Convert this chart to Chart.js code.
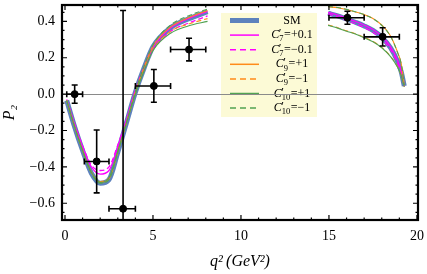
<!DOCTYPE html>
<html>
<head>
<meta charset="utf-8">
<script src="https://cdn.jsdelivr.net/npm/chart.js@4.4.0/dist/chart.umd.min.js"></script>
<style>
  html, body { margin: 0; padding: 0; background: #fff; }
  #wrap { width: 427px; height: 274px; }
</style>
</head>
<body>
<div id="wrap"><canvas id="chart"></canvas></div>
<script>
// q^2 grid for the two theory segments (below and above the charmonium gap)
const qLow = [0.1, 0.5, 1, 1.5, 2, 2.5, 3, 3.5, 4, 4.5, 5, 6, 7, 8.1];
const qHigh = [14.95, 15.5, 16, 16.5, 17, 17.5, 18, 18.5, 18.9, 19.1, 19.28];

// P2 predictions, low q^2
const smLow    = [-0.035, -0.165, -0.31, -0.435, -0.49, -0.47, -0.32, -0.155, 0.01, 0.145, 0.26, 0.365, 0.413, 0.453];
const c7pLow   = [-0.03, -0.155, -0.29, -0.40, -0.44, -0.42, -0.29, -0.14, 0.02, 0.15, 0.26, 0.365, 0.415, 0.455];
const c7mLow   = [-0.03, -0.15, -0.285, -0.39, -0.42, -0.40, -0.28, -0.14, 0.02, 0.14, 0.245, 0.345, 0.39, 0.43];
const c9pLow   = [-0.035, -0.165, -0.31, -0.43, -0.485, -0.465, -0.32, -0.155, 0.01, 0.15, 0.265, 0.37, 0.42, 0.46];
const c9mLow   = [-0.035, -0.165, -0.31, -0.43, -0.48, -0.46, -0.315, -0.155, 0.005, 0.135, 0.245, 0.345, 0.385, 0.415];
const c10pLow  = [-0.035, -0.165, -0.31, -0.43, -0.485, -0.46, -0.315, -0.155, 0.0, 0.13, 0.24, 0.335, 0.375, 0.40];
const c10mLow  = [-0.035, -0.165, -0.31, -0.435, -0.49, -0.47, -0.32, -0.155, 0.015, 0.155, 0.27, 0.38, 0.43, 0.468];

// P2 predictions, high q^2
const smHigh   = [0.445, 0.43, 0.413, 0.395, 0.375, 0.35, 0.313, 0.255, 0.18, 0.125, 0.045];
const c7pHigh  = [0.45, 0.435, 0.418, 0.40, 0.38, 0.355, 0.318, 0.26, 0.185, 0.13, 0.048];
const c7mHigh  = [0.44, 0.425, 0.405, 0.387, 0.366, 0.34, 0.303, 0.245, 0.172, 0.12, 0.043];
const c9pHigh  = [0.48, 0.475, 0.465, 0.452, 0.437, 0.416, 0.38, 0.32, 0.23, 0.17, 0.05];
const c9mHigh  = [0.38, 0.365, 0.348, 0.332, 0.312, 0.29, 0.257, 0.208, 0.15, 0.105, 0.04];
const c10pHigh = [0.378, 0.363, 0.346, 0.33, 0.31, 0.288, 0.255, 0.206, 0.148, 0.104, 0.04];
const c10mHigh = [0.482, 0.476, 0.466, 0.453, 0.437, 0.415, 0.378, 0.318, 0.228, 0.168, 0.05];

// measurements
const qMeas  = [0.55, 1.8, 3.3, 5.05, 7.05, 16.05, 18.05];
const qBinLo = [0.1, 1.1, 2.5, 4.0, 6.0, 15.0, 17.0];
const qBinHi = [1.0, 2.5, 4.0, 6.0, 8.0, 17.0, 19.0];
const p2Meas = [0.0, -0.37, -0.63, 0.045, 0.245, 0.42, 0.315];
const p2Err  = [0.05, 0.173, 1.09, 0.09, 0.062, 0.036, 0.05];

// legend labels: Wilson coefficient subscript and value
const coefSub = ['7', '7', '9', '9', '10', '10'];
const coefVal = ['+0.1', '\u22120.1', '+1', '\u22121', '+1', '\u22121'];

const xTicks = [0, 5, 10, 15, 20];
const yTicks = [-0.6, -0.4, -0.2, 0, 0.2, 0.4];

const SERIF = "'Liberation Serif', 'DejaVu Serif', serif";
const MAGENTA = '#ff00ff', ORANGE = '#ff8c1a', GREEN = '#52a352', SMBLUE = '#5d82bd';

function seg(lo, hi) {
  return qLow.map((q, i) => ({ x: q, y: lo[i] }))
    .concat([{ x: 11, y: null }], qHigh.map((q, i) => ({ x: q, y: hi[i] })));
}

function curve(label, lo, hi, color, width, dash, order, sub, val) {
  return {
    label, data: seg(lo, hi), showLine: true, borderColor: color, borderWidth: width,
    borderDash: dash, pointRadius: 0, fill: false, cubicInterpolationMode: 'monotone',
    spanGaps: false, order, sub, val
  };
}

const datasets = [
  {
    label: 'data', data: qMeas.map((q, i) => ({ x: q, y: p2Meas[i] })),
    pointRadius: 3.5, backgroundColor: '#000', borderColor: '#000', order: 0, isData: true
  },
  curve('SM', smLow, smHigh, SMBLUE, 5, [], 7),
  curve('c7p', c7pLow, c7pHigh, MAGENTA, 1.3, [], 6, coefSub[0], coefVal[0]),
  curve('c7m', c7mLow, c7mHigh, MAGENTA, 1.3, [5, 3], 5, coefSub[1], coefVal[1]),
  curve('c9p', c9pLow, c9pHigh, ORANGE, 1.1, [], 4, coefSub[2], coefVal[2]),
  curve('c9m', c9mLow, c9mHigh, ORANGE, 1.1, [5, 3], 3, coefSub[3], coefVal[3]),
  curve('c10p', c10pLow, c10pHigh, GREEN, 1.1, [], 2, coefSub[4], coefVal[4]),
  curve('c10m', c10mLow, c10mHigh, GREEN, 1.1, [5, 3], 1, coefSub[5], coefVal[5])
];

// legend box in the upper middle
const legendPlugin = {
  id: 'legendBox',
  beforeDraw(chart) {
    const ctx = chart.ctx;
    const x0 = 221, y0 = 13, w = 96, h = 104;
    ctx.save();
    ctx.fillStyle = '#fcfad6';
    ctx.fillRect(x0, y0, w, h);
    const rows = chart.data.datasets.filter(d => !d.isData);
    rows.forEach((d, i) => {
      const y = y0 + 7.5 + i * 14.6;
      ctx.strokeStyle = d.borderColor;
      ctx.lineWidth = d.label === 'SM' ? 5 : 1.5;
      ctx.setLineDash(d.borderDash.length ? [6, 4] : []);
      ctx.beginPath(); ctx.moveTo(230, y); ctx.lineTo(259, y); ctx.stroke();
      ctx.setLineDash([]);
      ctx.fillStyle = '#000';
      ctx.textBaseline = 'middle';
      const cx = 292;
      if (d.label === 'SM') {
        ctx.font = '12px ' + SERIF;
        ctx.textAlign = 'center';
        ctx.fillText('SM', cx, y);
        return;
      }
      ctx.textAlign = 'left';
      ctx.font = 'italic 12px ' + SERIF;
      const wC = ctx.measureText('C').width;
      ctx.font = '12px ' + SERIF;
      const wP = ctx.measureText('\u2032').width;
      const wRest = ctx.measureText('=' + d.val).width;
      ctx.font = '8.5px ' + SERIF;
      const wS = ctx.measureText(d.sub).width;
      const total = wC + Math.max(wP, wS) + 0.5 + wRest;
      let x = cx - total / 2;
      ctx.font = 'italic 12px ' + SERIF;
      ctx.fillText('C', x, y);
      x += wC;
      ctx.font = '12px ' + SERIF;
      ctx.fillText('\u2032', x - 0.5, y - 1);
      ctx.font = '8.5px ' + SERIF;
      ctx.fillText(d.sub, x, y + 4);
      x += Math.max(wP, wS) + 0.5;
      ctx.font = '12px ' + SERIF;
      ctx.fillText('=' + d.val, x, y);
    });
    ctx.restore();
  }
};

// error bars + Mathematica-style frame with inward ticks
const framePlugin = {
  id: 'frame',
  afterDatasetsDraw(chart) {
    const { ctx, chartArea: a, scales: { x, y } } = chart;
    ctx.save();
    ctx.beginPath(); ctx.rect(a.left, a.top, a.right - a.left, a.bottom - a.top); ctx.clip();
    ctx.strokeStyle = '#000';
    ctx.lineWidth = 1.6;
    qMeas.forEach((q, i) => {
      const px = x.getPixelForValue(q), py = y.getPixelForValue(p2Meas[i]);
      const yt = y.getPixelForValue(p2Meas[i] + p2Err[i]);
      const yb = y.getPixelForValue(p2Meas[i] - p2Err[i]);
      const xl = x.getPixelForValue(qBinLo[i]), xr = x.getPixelForValue(qBinHi[i]);
      ctx.beginPath();
      ctx.moveTo(px, yt); ctx.lineTo(px, yb);
      ctx.moveTo(px - 3, yt); ctx.lineTo(px + 3, yt);
      ctx.moveTo(px - 3, yb); ctx.lineTo(px + 3, yb);
      ctx.moveTo(xl, py); ctx.lineTo(xr, py);
      ctx.moveTo(xl, py - 3); ctx.lineTo(xl, py + 3);
      ctx.moveTo(xr, py - 3); ctx.lineTo(xr, py + 3);
      ctx.stroke();
    });
    ctx.restore();
  },
  afterDraw(chart) {
    const { ctx, chartArea: a, scales: { x, y } } = chart;
    ctx.save();
    ctx.strokeStyle = '#000';
    ctx.lineWidth = 1.2;
    ctx.beginPath();
    for (let v = 0; v <= 20; v += 1) {
      const px = x.getPixelForValue(v);
      const len = v % 5 === 0 ? 5 : 2.5;
      ctx.moveTo(px, a.bottom); ctx.lineTo(px, a.bottom - len);
      ctx.moveTo(px, a.top); ctx.lineTo(px, a.top + len);
    }
    for (let k = -13; k <= 9; k++) {
      const v = k * 0.05;
      const py = y.getPixelForValue(v);
      const len = k % 4 === 0 ? 5 : 2.5;
      ctx.moveTo(a.left, py); ctx.lineTo(a.left + len, py);
      ctx.moveTo(a.right, py); ctx.lineTo(a.right - len, py);
    }
    ctx.stroke();
    ctx.lineWidth = 2.2;
    ctx.strokeRect(a.left, a.top, a.right - a.left, a.bottom - a.top);
    ctx.restore();
  }
};

new Chart(document.getElementById('chart'), {
  type: 'scatter',
  data: { datasets },
  options: {
    responsive: true,
    maintainAspectRatio: false,
    animation: false,
    layout: { padding: { left: 0, right: 9, top: 3, bottom: 0 } },
    plugins: { legend: { display: false }, tooltip: { enabled: false } },
    scales: {
      x: {
        type: 'linear', min: -0.17, max: 20.06,
        afterBuildTicks: s => { s.ticks = xTicks.map(v => ({ value: v })); },
        afterFit: s => { s.height = 54; s.paddingLeft = 0; s.paddingRight = 0; },
        grid: { display: false, drawTicks: false },
        border: { display: false },
        ticks: { padding: 8, color: '#000', font: { family: SERIF, size: 14 }, maxRotation: 0 },
        title: {
          display: true, text: 'q\u00b2\u2009(GeV\u00b2)', color: '#000',
          font: { family: SERIF, size: 16, style: 'italic' }, padding: { top: 0, bottom: 3 }
        }
      },
      y: {
        type: 'linear', min: -0.692, max: 0.49,
        afterBuildTicks: s => { s.ticks = yTicks.map(v => ({ value: v })); },
        afterFit: s => { s.width = 62; s.paddingTop = 0; s.paddingBottom = 0; },
        grid: {
          drawTicks: false,
          color: c => (c.tick && c.tick.value === 0 ? '#8a8a8a' : 'rgba(0,0,0,0)'),
          lineWidth: 1
        },
        border: { display: false },
        ticks: {
          padding: 7, color: '#000', font: { family: SERIF, size: 14 },
          callback: v => (v < 0 ? '\u2212' : '') + Math.abs(v).toFixed(1)
        },
        title: {
          display: true, text: 'P\u2082', color: '#000',
          font: { family: SERIF, size: 16, style: 'italic' }, padding: { top: 0, bottom: 0 }
        }
      }
    }
  },
  plugins: [legendPlugin, framePlugin]
});
</script>
</body>
</html>
